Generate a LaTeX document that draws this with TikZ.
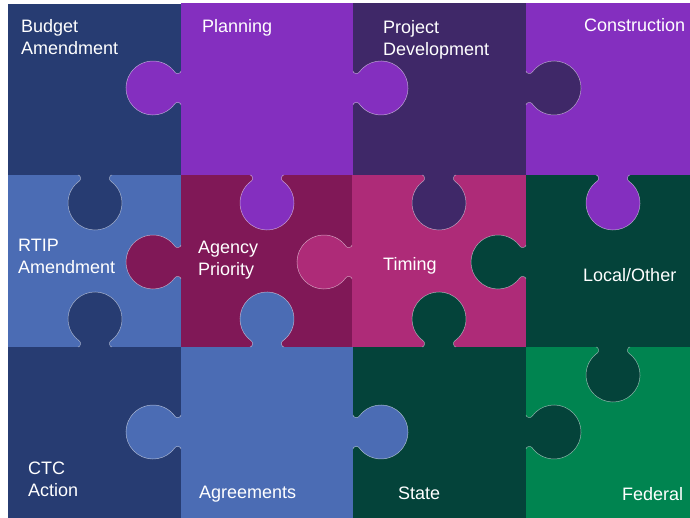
\documentclass[tikz,border=0pt]{standalone}
\usepackage{fontspec}
\setmainfont{Liberation Sans}

\definecolor{budgetblue}{RGB}{39,60,114}
\definecolor{planpurple}{RGB}{132,47,191}
\definecolor{devpurple}{RGB}{63,40,104}
\definecolor{rtipblue}{RGB}{75,108,180}
\definecolor{agencyred}{RGB}{128,24,87}
\definecolor{timingpink}{RGB}{174,43,120}
\definecolor{localgreen}{RGB}{4,67,58}
\definecolor{fedgreen}{RGB}{0,132,80}

% knob: edge point, direction it sticks out, colour of its piece
\newcommand\knob[3]{%
  \begin{scope}[shift={(#1)},rotate=#2]
    \fill[#3] (-17,-1) -- (-17,0) .. controls (-14.5,0) and (-13.5,4.5) .. (-15.5,5.9)
      arc[start angle=235,end angle=-55,radius=27]
      .. controls (13.5,4.5) and (14.5,0) .. (17,0) -- (17,-1) -- cycle;
    \draw[rim] (-17,0) .. controls (-14.5,0) and (-13.5,4.5) .. (-15.5,5.9)
      arc[start angle=235,end angle=-55,radius=27]
      .. controls (13.5,4.5) and (14.5,0) .. (17,0);
  \end{scope}}

\begin{document}
\begin{tikzpicture}[x=1pt,y=1pt,
  piecetext/.style={anchor=north west,inner sep=0pt,align=left,text=white,
    font=\fontsize{18}{22}\selectfont},
  rim/.style={draw=white,draw opacity=0.55,line width=0.5pt}]
  \useasboundingbox (0,0) rectangle (690,518);
  % pieces
  \fill[budgetblue] (8,343) rectangle (181,514);
  \fill[planpurple] (181,343) rectangle (353,515);
  \fill[devpurple] (353,343) rectangle (526,515);
  \fill[planpurple] (526,343) rectangle (690,515);
  \fill[rtipblue] (8,171) rectangle (181,343);
  \fill[agencyred] (181,171) rectangle (352,343);
  \fill[timingpink] (352,171) rectangle (526,343);
  \fill[localgreen] (526,171) rectangle (690,343);
  \fill[budgetblue] (8,0) rectangle (181,171);
  \fill[rtipblue] (181,0) rectangle (353,171);
  \fill[localgreen] (353,0) rectangle (526,171);
  \fill[fedgreen] (526,0) rectangle (690,171);
  % knobs
  \knob{181,430}{90}{planpurple}
  \knob{353,430}{-90}{planpurple}
  \knob{526,430}{-90}{devpurple}
  \knob{181,256}{90}{agencyred}
  \knob{352,256}{90}{timingpink}
  \knob{526,256}{90}{localgreen}
  \knob{181,86}{90}{rtipblue}
  \knob{353,86}{-90}{rtipblue}
  \knob{526,86}{-90}{localgreen}
  \knob{95,343}{180}{budgetblue}
  \knob{267,343}{180}{planpurple}
  \knob{439,343}{180}{devpurple}
  \knob{613,343}{180}{planpurple}
  \knob{95,171}{0}{budgetblue}
  \knob{267,171}{0}{rtipblue}
  \knob{439,171}{0}{localgreen}
  \knob{613,171}{180}{localgreen}
  % texts
  \node[piecetext] (budget) at (21,499) {Budget\\Amendment};
  \node[piecetext] (planning) at (202,499) {Planning};
  \node[piecetext] (projdev) at (383,498) {Project\\Development};
  \node[piecetext] (construction) at (584,500) {Construction};
  \node[piecetext] (rtip) at (18,279) {RTIP\\Amendment};
  \node[piecetext] (agency) at (198,277) {Agency\\Priority};
  \node[piecetext] (timing) at (383,261) {Timing};
  \node[piecetext] (local) at (583,250) {Local/Other};
  \node[piecetext] (ctc) at (28,56) {CTC\\Action};
  \node[piecetext] (agreements) at (199,32) {Agreements};
  \node[piecetext] (state) at (398,31) {State};
  \node[piecetext] (federal) at (622,31) {Federal};
\end{tikzpicture}
\end{document}
